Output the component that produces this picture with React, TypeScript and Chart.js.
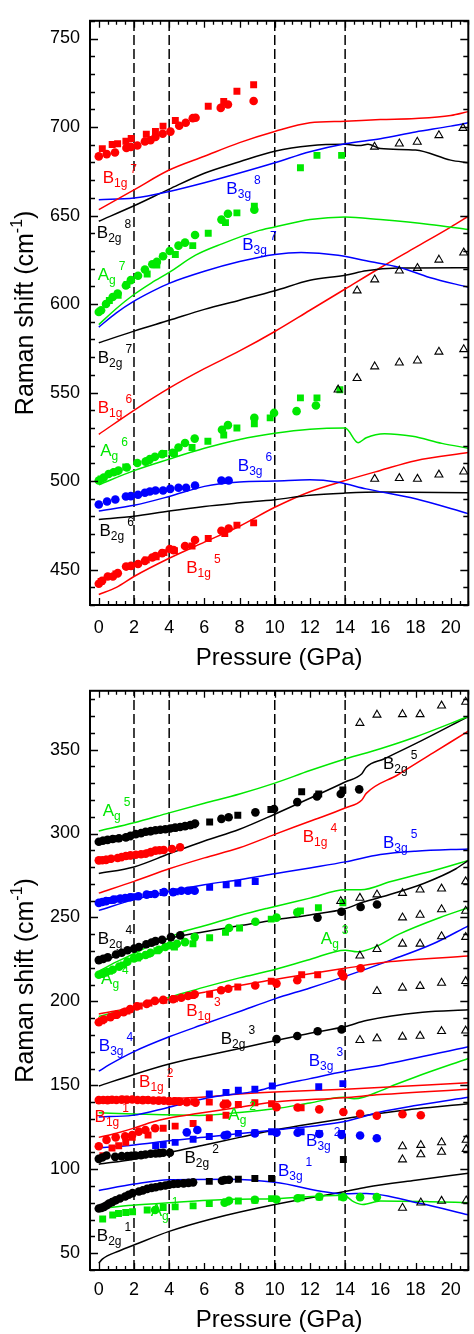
import { useEffect, useRef } from 'react';
import { Chart, registerables } from 'chart.js';
Chart.register(...registerables);

type Pt = [number, number];
type Lbl = { x: number; y: number; main: string; sub: string; sup: string; color: string };

const RED = '#ff0000';
const GREEN = '#00e800';
const BLUE = '#0000ff';
const BLACK = '#000000';
const FONT = '"Liberation Sans", Arial, Helvetica, sans-serif';

// ---------- axes ----------
const xTicks = [0, 2, 4, 6, 8, 10, 12, 14, 16, 18, 20];
const topYTicks = [450, 500, 550, 600, 650, 700, 750];
const botYTicks = [50, 100, 150, 200, 250, 300, 350];
const pressureMarks = [2, 4, 10, 14];
const xTitle = 'Pressure (GPa)';

// ---------- TOP PANEL : calculated curves ----------
const thB1g7: Pt[] = [[0,653.3],[2,664.5],[4,675.7],[6,683.5],[8,691.2],[10,697.5],[12,702.4],[14,703.3],[16,704.2],[18,704.8],[20,706.5],[21,708.7]];
const thB3g8: Pt[] = [[0,658.9],[2,659.9],[4,663.6],[6,668.5],[8,674],[10,679.8],[12,686],[14,690.6],[16,693.4],[18,697.2],[20,700.5],[21,702.4]];
const thB2g8: Pt[] = [[0,646.8],[2,655.5],[4,664.9],[6,673.9],[8,680.4],[10,686.3],[12,689.4],[14,690.2],[14.8,689.5],[15.3,690.3],[16,687.8],[18,687],[20,681.3],[21,679.8]];
const thAg7: Pt[] = [[0,588.4],[1,597.5],[2,605.4],[3,612],[4,617.9],[5.5,627.6],[7,634],[9,641.2],[10,643.5],[12,647.7],[14,649.2],[16,647.7],[18.8,645],[21,642.1]];
const thB3g7: Pt[] = [[0,587],[1,595],[2,601.6],[3,607],[4,611.7],[6,618.5],[8,624],[10,628],[11.5,629.1],[13.6,627.6],[15.2,624.4],[17.1,620.7],[18.8,615],[21,609.5]];
const thB2g7: Pt[] = [[0,578.1],[2,584.7],[4,590.8],[6,597],[8,602.2],[10,607.5],[12,613.5],[14,616.3],[15.2,618.8],[17,620.3],[21,620.5]];
const thB1g6: Pt[] = [[0,526.4],[2,540],[4,552.5],[6,563.5],[8,573.5],[10,584.5],[12,596.5],[14,608.5],[16,620.5],[18,632],[20,643.5],[21,649.6]];
const thAg6: Pt[] = [[0,497.9],[2,505.9],[4,512.4],[6,518.5],[8,523.5],[10,527],[12,529.3],[14,530],[14.74,521.7],[15.2,524.5],[16.24,526.8],[17.83,525.3],[19.5,521.3],[21,518.6]];
const thB3g6: Pt[] = [[0,483.1],[2,486.3],[4,491.3],[6,497],[8,499.5],[10,500],[12,500.7],[13.6,499.3],[15.2,495.6],[18,490],[21,481.6]];
const thB2g6: Pt[] = [[0,478.3],[2,480.1],[4,483.1],[6,485.7],[8,487.7],[10,489.5],[12,492],[14,493.2],[16,493.8],[21,493.4]];
const thB1g5: Pt[] = [[0,435.9],[1,440],[2,446.1],[4,456.4],[6,465.5],[8,474.5],[10,485.2],[12,494],[14,500.3],[16,506],[18,511.5],[21,516.1]];

// ---------- TOP PANEL : measured ----------
const expB1g7Circ: Pt[] = [[0,683.4],[0.45,684.7],[0.92,685.6],[1.57,688.2],[1.82,688.8],[2.19,689.6],[2.62,691.8],[2.94,692.5],[3.22,694.4],[3.63,696.2],[4.07,697.4],[4.57,700.7],[4.94,702.4],[5.34,705],[5.5,705.2],[6.93,710.8],[7.34,712.7],[8.8,714.7]];
const expB1g7Sq: Pt[] = [[0.2,687.8],[0.76,690.1],[1.07,690.5],[1.54,692],[1.84,693.5],[2.7,695.9],[3.22,697.5],[3.65,700.5],[4.35,703.7],[6.22,711.7],[7.1,714.4],[7.85,720.2],[8.8,723.9]];
const expAg7Circ: Pt[] = [[0,595.5],[0.13,596.5],[0.41,600],[0.79,604],[1.07,606],[1.54,610.5],[1.82,613.5],[2.23,616],[2.62,619.5],[3.04,622.5],[3.3,623.8],[3.65,627],[4.03,630],[4.53,633],[4.9,634.7],[5.47,639],[6.97,647.7],[7.34,651],[8.84,653.3]];
const expAg7Sq: Pt[] = [[0.6,602],[1.1,605],[1.6,611],[2.75,617],[3.3,622],[4.35,628],[5.34,633],[6.22,640],[7.2,646],[7.85,651.5],[8.84,655.2],[11.46,677],[12.4,684],[13.8,684]];
const expAg6Circ: Pt[] = [[0,500.3],[0.28,502],[0.56,504],[0.84,505],[1.12,506],[1.59,507.7],[2.19,510.2],[2.66,511],[2.9,512.4],[3.19,513.7],[3.6,515.2],[4.2,516],[4.53,519],[4.9,521.5],[5.45,524],[7.0,529],[7.34,531.6],[8.84,535.7],[9.96,538.5],[11.24,539.5],[12.34,542.7]];
const expAg6Sq: Pt[] = [[0.13,501.2],[0.97,505.3],[1.53,508],[2.8,511.5],[3.7,515.6],[4.3,515.6],[5.3,519],[6.2,522.5],[7.1,526],[7.85,530],[8.84,532.4],[9.74,535.7],[11.46,547],[12.4,547],[13.7,551.6]];
const expB3g6Circ: Pt[] = [[0,486.8],[0.47,488.5],[0.94,489.6],[1.54,491.3],[1.82,491.5],[2.23,492.3],[2.62,493.4],[2.9,494.1],[3.22,494.7],[3.65,494.7],[4.06,495.6],[4.53,496.2],[4.96,496.2],[5.47,497.5],[6.97,500.3],[7.38,500.3]];
const expB1g5Circ: Pt[] = [[0,442],[0.19,443.7],[0.51,446.1],[0.8,446.1],[1.08,448],[1.55,451.7],[1.83,452.1],[2.23,453.2],[2.62,454.9],[3.04,456.8],[3.22,457.7],[3.6,459.3],[4.03,461.6],[4.25,461],[4.9,463.3],[5.47,466.7],[6.97,471.9],[7.38,473.2]];
const expB1g5Sq: Pt[] = [[0.13,443.3],[0.97,447.5],[1.72,451.7],[2.7,455.5],[3.26,457.2],[3.7,459.6],[4.3,460.7],[5.3,463.3],[6.22,467.6],[7.16,470.4],[7.85,475.1],[8.8,476.4]];
const triTop: Pt[] = [
  [15.67,688.8],[17.08,690.6],[18.1,691.6],[19.33,695.3],[20.7,699.4],
  [14.68,607.6],[15.68,613.8],[17.08,618.8],[18.11,620.3],[19.33,625],[20.74,629],
  [13.6,551.6],[14.68,558.1],[15.68,564.7],[17.08,566.9],[18.11,568],[19.33,573],[20.74,574.4],
  [15.68,501.2],[17.08,501.6],[18.11,501.2],[19.33,503.6],[20.74,505.3],
];
const topLabels: Lbl[] = [
  { x: 0.22, y: 671.9, main: 'B', sub: '1g', sup: '7', color: RED },
  { x: 7.25, y: 665.5, main: 'B', sub: '3g', sup: '8', color: BLUE },
  { x: -0.11, y: 640.8, main: 'B', sub: '2g', sup: '8', color: BLACK },
  { x: -0.06, y: 616.9, main: 'A', sub: 'g', sup: '7', color: GREEN },
  { x: 8.15, y: 633.9, main: 'B', sub: '3g', sup: '7', color: BLUE },
  { x: -0.06, y: 569.9, main: 'B', sub: '2g', sup: '7', color: BLACK },
  { x: -0.06, y: 542.1, main: 'B', sub: '1g', sup: '6', color: RED },
  { x: 0.08, y: 517.6, main: 'A', sub: 'g', sup: '6', color: GREEN },
  { x: 7.9, y: 509.1, main: 'B', sub: '3g', sup: '6', color: BLUE },
  { x: 0.04, y: 472.1, main: 'B', sub: '2g', sup: '6', color: BLACK },
  { x: 4.97, y: 451.7, main: 'B', sub: '1g', sup: '5', color: RED },
];

// ---------- BOTTOM PANEL : calculated curves ----------
const thAg5: Pt[] = [[0,301.5],[2,306.4],[4,312.3],[6,318],[8,323.5],[10,330],[12,337.5],[14,344.4],[16,350.5],[18,357.5],[21,369.7]];
const thB2g5: Pt[] = [[0,276.2],[2,280.1],[4,287.9],[6,295.5],[8,302.5],[10,311.5],[12,321],[14,330.7],[14.95,335.6],[15.2,339.5],[16.2,344.4],[18,353.5],[21,369.7]];
const thB1g4: Pt[] = [[0,264.5],[2,271.5],[4,279],[6,285.5],[8,291.5],[10,299.5],[12,307.3],[14,315.2],[14.95,320],[15.2,323.9],[17,335],[19,348],[21,361]];
const thB3g5: Pt[] = [[0,254.2],[2,260.6],[4,265.5],[6,269.5],[8,272.5],[10,276],[12,279.5],[14,283.1],[16,287.5],[18,289.5],[21,290.8]];
const thB2g4: Pt[] = [[0,223.5],[2,230.5],[4,237.5],[6,241.5],[8,245],[10,248.5],[12,251.5],[14,255.2],[15,259],[16.5,263.5],[18.5,270.4],[20.3,279],[21,284]];
const thAg4: Pt[] = [[0,218],[1,223.5],[2,228.5],[3,233.5],[4,238],[4.7,241.2],[6,245],[8,251.2],[9.6,255.5],[12,261.5],[14,266.5],[14.9,266.5],[16.6,271.4],[19.4,279],[21,284]];
const thAg3: Pt[] = [[0,191],[2,196.5],[4,202.4],[6,208.5],[8,214],[10,219],[12,225],[14,230.5],[14.7,229.5],[15.7,232.4],[17.1,240.2],[19.4,250],[21,255.8]];
const thB1g3: Pt[] = [[0,192.5],[2,196.4],[4,201.3],[6,205.5],[8,209.5],[10,213],[12,216.5],[14,219.7],[16.6,223.7],[21,227]];
const thB3g4: Pt[] = [[0,158.4],[0.6,162.3],[2,170.1],[4,178.9],[6,186.5],[8,194],[10,201.5],[12,208],[14,214.9],[16.6,224.6],[19,234.3],[21,245]];
const thB2g3: Pt[] = [[0,149.6],[2,156.5],[4,162.7],[6,167.5],[8,172],[10,176.5],[12,181],[14,185],[15.2,188.6],[18.4,193.5],[21,195]];
const thB3g3: Pt[] = [[0,131.2],[1.9,132.1],[4,137],[6.4,142.9],[9,146.7],[10,149.5],[12,154],[14,158.4],[16.2,162.3],[21,173]];
const thB1g2: Pt[] = [[0,141],[4,142],[6,143],[8,144.8],[10,146],[14,147.7],[21,151.6]];
const thB1g1: Pt[] = [[0,119],[1,121.5],[2,124.5],[3,128],[4,130.5],[5.7,133.3],[8,137],[10,140.1],[13.9,142.6],[16,144.5],[21,147.7]];
const thAg2: Pt[] = [[0,133.6],[2,132.9],[5.7,132.1],[8,133.8],[10,136],[12,139.5],[13.9,142.9],[14.5,142],[15.05,142.9],[16,146.7],[16.9,150.6],[18,155],[21,166]];
const thB3g2: Pt[] = [[0,112.7],[2,114.5],[4,117],[6.4,119.5],[10,123.4],[13.9,128.3],[16,134.1],[18,138],[21,142.9]];
const thB2g2: Pt[] = [[0,103],[2,106],[4,110],[6,114.5],[8,119],[10,123.4],[12,127],[14,130.2],[17,134.7],[21,139]];
const thB3g1: Pt[] = [[0,87.4],[2,91.2],[4,93.8],[7.5,94.1],[10,92.2],[14,85.4],[15.2,85.6],[18.3,79.6],[21,72.9]];
const thAg1: Pt[] = [[0,76.6],[1.9,78.6],[4,80.1],[7.5,82.1],[10,82.5],[13.9,84.5],[14.5,80.6],[15,79],[16,81.1],[18.8,80.7],[21,80.1]];
const thB2g1: Pt[] = [[0,44],[0.2,46.5],[1.15,51.3],[2.1,55.3],[4,63],[6.4,70.4],[10,79],[14,86.8],[15.2,89.3],[18,93.5],[21,97.6]];

// ---------- BOTTOM PANEL : measured ----------
const expB2g5Circ: Pt[] = [[0,295.1],[0.23,295.7],[0.5,296.2],[0.79,296.7],[1.15,297.2],[1.54,297.7],[1.8,298.6],[2.1,299.6],[2.4,300.2],[2.66,301],[2.95,301.4],[3.22,301.9],[3.5,302.2],[3.78,302.5],[4.06,303],[4.34,303.5],[4.62,303.9],[4.9,304.4],[5.2,305],[5.47,306],[6.97,308.7],[7.38,309.7],[8.9,312.6],[9.96,314.6],[11.28,318.7],[12.4,322],[13.75,323.5],[14.8,326.3]];
const expB2g5Sq: Pt[] = [[0.35,296],[0.95,296.9],[1.7,298],[2.8,301],[3.65,302.3],[4.3,303.3],[5.35,305.2],[6.3,306.8],[7.9,310.9],[9.78,314.3],[11.53,324.9],[12.5,323.5],[13.87,325.9]];
const expB1g4Circ: Pt[] = [[0,284],[0.2,284.1],[0.41,284.3],[0.7,285],[1.07,285.4],[1.3,286],[1.54,286.6],[1.8,287],[2.1,287.3],[2.4,287.6],[2.66,287.9],[2.95,288.9],[3.22,289.8],[3.45,290],[3.69,290.2],[4.16,290.8],[4.62,291.8]];
const expB1g4Sq: Pt[] = [[0.55,284.7],[1.2,285.6],[1.73,286.6],[2.85,288.5],[3.35,289.9]];
const expB3g5Circ: Pt[] = [[0,258.7],[0.2,259.2],[0.41,259.7],[0.84,260.6],[1.22,261.2],[1.5,261.6],[1.78,262],[2.25,262.6],[2.72,263.6],[3.19,264],[3.71,265.1],[4.22,265.1],[4.69,265.9],[5.07,265.9],[5.45,265.9]];
const expB3g5Sq: Pt[] = [[0.6,260.1],[1.1,261],[2.0,262.3],[2.85,263.7],[3.65,264.9],[4.35,265.3],[5.35,266.3],[6.3,267.9],[7.24,269.4],[7.9,270.4],[8.89,271.4]];
const expB2g4Circ: Pt[] = [[0,224.6],[0.25,225.3],[0.51,226.2],[0.98,227.9],[1.3,229],[1.63,230.5],[2,231.4],[2.28,232.4],[2.7,234],[3.0,235],[3.22,235.9],[3.6,236.7],[4.1,238.3],[4.63,239.3],[12.43,249.9],[13.79,253.4],[14.88,256.2],[15.81,257.7]];
const expAg4Circ: Pt[] = [[0,215.9],[0.2,216.5],[0.41,217.2],[0.79,218.8],[1.16,220.7],[1.63,223.7],[2,225.6],[2.3,226.6],[2.66,227.6],[2.94,228.9],[3.41,230.8],[3.78,232.4],[4.06,233.4],[4.44,234.3],[4.9,235.3],[5.45,238.3],[7.4,243.7],[8.9,247.4],[10.1,249.9],[11.28,253]];
const expAg4Sq: Pt[] = [[0.13,216],[0.6,218],[1.4,221.7],[2.2,225.8],[2.75,228],[3.3,230.2],[4.3,232.4],[5.35,234.3],[6.3,237.9],[7.2,241.2],[8.0,243.7],[9.8,249],[11.46,253.9],[12.48,255.8],[13.87,258.7]];
const expB1g3Circ: Pt[] = [[0,187.6],[0.28,189.2],[0.66,190.6],[1.03,192.1],[1.41,193.5],[1.78,195.4],[2.16,197],[2.72,198.4],[3.19,200.3],[3.66,200.9],[4.22,201.3],[4.69,202.2],[5.07,203.2],[5.45,204.2],[6.95,206.6],[7.36,207.5],[8.89,209.5],[10.1,210.6],[11.28,212.6],[13.8,216.8],[13.9,214.9],[14.88,219.7]];
const expB1g3Sq: Pt[] = [[0.15,188.5],[0.9,191.5],[1.6,194.3],[2.3,197.2],[2.85,199],[3.7,200.6],[4.3,201.6],[5.3,203.5],[6.3,204.2],[7.9,208.6],[9.8,212],[11.53,215.9],[12.44,215.9]];
const expB2g3Circ: Pt[] = [[10.1,177.5],[11.28,179.4],[12.44,182.2],[13.8,183.3]];
const expB3g3Sq: Pt[] = [[6.28,144.8],[7.23,145.8],[7.93,147.1],[8.87,147.7],[9.86,149.6],[12.5,149.1],[13.87,151]];
const expB1g2Circ: Pt[] = [[0,141.2],[0.25,141.3],[0.5,141.2],[0.75,141.4],[1.0,141.3],[1.3,141.5],[1.6,141.4],[1.9,141.6],[2.2,141.3],[2.5,141.2],[2.8,141.3],[3.1,141],[3.4,140.9],[3.7,140.8],[4.0,140.6],[4.3,140.5],[4.6,140.3],[5.0,140],[5.5,139.7],[7.1,138.4],[7.3,138.9],[10.1,137],[11.3,136.8],[12.53,135.7],[13.9,134.1],[14.85,133.1],[15.8,131.9],[17.26,132.8],[18.3,132.2]];
const expB1g2Sq: Pt[] = [[0.6,141.6],[1.5,141.7],[2.7,141.5],[3.6,141.1],[4.4,140.8],[5.4,140.2],[6.28,140],[7.2,139.5],[7.93,138.6],[8.87,139.6],[9.82,139],[11.5,136.6]];
const expB1g1Circ: Pt[] = [[0,113.7],[0.44,117.5],[0.96,119],[1.5,119.6],[1.9,120.4],[2.27,122.4],[2.65,123.4],[3.2,124.4]];
const expB1g1Sq: Pt[] = [[0.23,108],[0.75,112.7],[1.13,114],[1.53,116],[1.9,119],[2.8,120.4],[3.66,124.4],[4.34,125.7],[5.36,127.3],[6.28,130.6],[7.23,132.2]];
const expB3g2Circ: Pt[] = [[5.0,122],[5.6,123.4],[7.15,120.1],[7.3,120.6],[8.87,121.4],[10.1,121.8],[11.3,121.8],[12.53,121],[13.8,120.4],[14.85,120.1],[15.8,118.5]];
const expB3g2Sq: Pt[] = [[3.23,114],[3.66,114.6],[4.34,116],[5.36,117.9],[6.28,119.5],[7.23,120.4],[7.93,121.4],[8.87,121.8],[9.82,122.4],[11.5,122.4],[12.53,121.4],[13.8,121.4]];
const expB2g2Circ: Pt[] = [[0,106.2],[0.2,107],[0.44,108.2],[0.93,107.4],[1.3,107.8],[1.62,107.8],[1.85,108],[2.09,108.2],[2.4,108.4],[2.65,108.8],[2.95,109.2],[3.23,109.4],[3.45,109.6],[3.66,109.8],[4.04,109.8]];
const expB2g2Sq: Pt[] = [[13.9,105.8]];
const expB2g1Circ: Pt[] = [[0,76.6],[0.15,77],[0.3,77.6],[0.45,78.6],[0.58,79.6],[0.75,80.4],[0.96,81.5],[1.2,82.6],[1.5,83.8],[1.7,84.8],[1.92,85.8],[2.28,86.8],[2.5,87.4],[2.75,88.3],[3.0,88.9],[3.23,89.3],[3.5,89.9],[3.78,90.3],[4.0,90.8],[4.25,91.2],[4.5,91.4],[4.82,91.6],[5.1,91.9],[5.36,92.2],[7.0,93.2],[7.15,93.6],[7.4,93.8]];
const expB2g1Sq: Pt[] = [[6.28,92.8],[7.3,93.6],[7.93,94.1],[8.87,94.5],[9.82,94.5]];
const expAg1Circ: Pt[] = [[3.2,75.7],[7.15,80.1],[7.4,81.2],[8.87,81.8],[10.1,82],[11.3,82.7],[12.53,83.6],[13.9,83.4],[14.85,83.4],[15.8,83.4]];
const expAg1Sq: Pt[] = [[0.22,70.4],[0.79,72.8],[1.12,73.7],[1.53,74.3],[1.92,74.7],[2.75,75.7],[3.66,77.2],[4.34,77.6],[5.36,78.2],[6.28,79.6],[7.23,80.5],[7.93,81.1],[8.87,81.5],[9.82,82.5],[11.5,83],[12.53,83.4],[13.8,83.4]];
const triBottom: Pt[] = [
  [14.84,365.8],[15.81,370.7],[17.26,371],[18.26,371],[19.48,376.1],[20.85,378.4],
  [13.75,259.7],[14.84,261.6],[15.81,263.6],[17.26,264.5],[18.26,266.5],[19.48,267.1],[20.85,271.4],
  [17.26,249.9],[18.26,251.5],[19.48,254.8],[20.85,253.9],
  [14.84,227.2],[15.81,231.1],[17.26,234.3],[18.26,234.3],[19.48,238.7],[20.85,238.3],
  [15.81,206.1],[17.26,208.1],[18.26,209.1],[19.48,211],[20.85,212],
  [14.84,176.9],[15.81,177.9],[17.26,178.9],[18.26,179.4],[19.48,182.2],[20.85,182.5],
  [17.26,113.6],[18.3,114.4],[19.48,116],[20.88,117.5],
  [17.26,105.8],[18.3,108.8],[19.48,110.3],[20.88,112],
  [17.26,77],[18.3,80.1],[19.48,81.1],[20.88,81.3],
];
const bottomLabels: Lbl[] = [
  { x: 0.22, y: 313.8, main: 'A', sub: 'g', sup: '5', color: GREEN },
  { x: 16.15, y: 342.2, main: 'B', sub: '2g', sup: '5', color: BLACK },
  { x: 11.59, y: 298.4, main: 'B', sub: '1g', sup: '4', color: RED },
  { x: 16.15, y: 294.7, main: 'B', sub: '3g', sup: '5', color: BLUE },
  { x: -0.06, y: 237.9, main: 'B', sub: '2g', sup: '4', color: BLACK },
  { x: 0.13, y: 213.9, main: 'A', sub: 'g', sup: '4', color: GREEN },
  { x: 12.62, y: 237.9, main: 'A', sub: 'g', sup: '3', color: GREEN },
  { x: 4.97, y: 195, main: 'B', sub: '1g', sup: '3', color: RED },
  { x: 0, y: 174, main: 'B', sub: '3g', sup: '4', color: BLUE },
  { x: 6.93, y: 178.3, main: 'B', sub: '2g', sup: '3', color: BLACK },
  { x: 11.93, y: 165.1, main: 'B', sub: '3g', sup: '3', color: BLUE },
  { x: 2.29, y: 152.4, main: 'B', sub: '1g', sup: '2', color: RED },
  { x: -0.24, y: 131.8, main: 'B', sub: '1g', sup: '1', color: RED },
  { x: 7.36, y: 132.7, main: 'A', sub: 'g', sup: '2', color: GREEN },
  { x: 11.78, y: 117.2, main: 'B', sub: '3g', sup: '2', color: BLUE },
  { x: 4.87, y: 107.4, main: 'B', sub: '2g', sup: '2', color: BLACK },
  { x: 10.18, y: 99.6, main: 'B', sub: '3g', sup: '1', color: BLUE },
  { x: 2.95, y: 75.9, main: 'A', sub: 'g', sup: '1', color: GREEN },
  { x: -0.11, y: 60.7, main: 'B', sub: '2g', sup: '1', color: BLACK },
];

type Series = [Pt[], string];
interface PanelSpec {
  height: number;
  padTop: number;
  xAxisH: number;
  yMin: number;
  yMax: number;
  yTicks: number[];
  xLabelPad: number;
  titleY: number;
  lines: Series[];
  circles: Series[];
  squares: Series[];
  triangles: Pt[];
  labels: Lbl[];
}

const topSpec: PanelSpec = {
  height: 670, padTop: 15, xAxisH: 65, yMin: 430, yMax: 760, yTicks: topYTicks, xLabelPad: 12, titleY: 53,
  lines: [[thB1g7, RED], [thB3g8, BLUE], [thB2g8, BLACK], [thAg7, GREEN], [thB3g7, BLUE], [thB2g7, BLACK], [thB1g6, RED], [thAg6, GREEN], [thB3g6, BLUE], [thB2g6, BLACK], [thB1g5, RED]],
  circles: [[expB1g7Circ, RED], [expAg7Circ, GREEN], [expAg6Circ, GREEN], [expB3g6Circ, BLUE], [expB1g5Circ, RED]],
  squares: [[expB1g7Sq, RED], [expAg7Sq, GREEN], [expAg6Sq, GREEN], [expB1g5Sq, RED]],
  triangles: triTop,
  labels: topLabels,
};

const bottomSpec: PanelSpec = {
  height: 664, padTop: 9, xAxisH: 64, yMin: 40, yMax: 385, yTicks: botYTicks, xLabelPad: 9, titleY: 50,
  lines: [[thAg5, GREEN], [thB2g5, BLACK], [thB1g4, RED], [thB3g5, BLUE], [thB2g4, BLACK], [thAg4, GREEN], [thAg3, GREEN], [thB1g3, RED], [thB3g4, BLUE], [thB2g3, BLACK], [thB3g3, BLUE], [thB1g2, RED], [thB1g1, RED], [thAg2, GREEN], [thB3g2, BLUE], [thB2g2, BLACK], [thB3g1, BLUE], [thAg1, GREEN], [thB2g1, BLACK]],
  circles: [[expB2g5Circ, BLACK], [expB1g4Circ, RED], [expB3g5Circ, BLUE], [expB2g4Circ, BLACK], [expAg4Circ, GREEN], [expB1g3Circ, RED], [expB2g3Circ, BLACK], [expB1g2Circ, RED], [expB1g1Circ, RED], [expB3g2Circ, BLUE], [expB2g2Circ, BLACK], [expB2g1Circ, BLACK], [expAg1Circ, GREEN]],
  squares: [[expB2g5Sq, BLACK], [expB1g4Sq, RED], [expB3g5Sq, BLUE], [expAg4Sq, GREEN], [expB1g3Sq, RED], [expB3g3Sq, BLUE], [expB1g2Sq, RED], [expB1g1Sq, RED], [expB3g2Sq, BLUE], [expB2g2Sq, BLACK], [expB2g1Sq, BLACK], [expAg1Sq, GREEN]],
  triangles: triBottom,
  labels: bottomLabels,
};

const toXY = (d: Pt[]) => d.map(([x, y]) => ({ x, y }));

function buildDatasets(s: PanelSpec): any[] {
  const ds: any[] = [];
  ds.push({ data: toXY(s.triangles), pointStyle: 'triangle', pointRadius: 4.6, borderWidth: 1.1, borderColor: BLACK, backgroundColor: 'rgba(255,255,255,0)', showLine: false });
  s.circles.forEach(([d, c]) => ds.push({ data: toXY(d), pointStyle: 'circle', pointRadius: 4.3, borderWidth: 0, backgroundColor: c, borderColor: c, showLine: false }));
  s.squares.forEach(([d, c]) => ds.push({ data: toXY(d), pointStyle: 'rect', pointRadius: 4.9, borderWidth: 0, backgroundColor: c, borderColor: c, showLine: false }));
  s.lines.forEach(([d, c]) => ds.push({ data: toXY(d), showLine: true, pointRadius: 0, borderColor: c, borderWidth: 1.5, cubicInterpolationMode: 'monotone', fill: false }));
  pressureMarks.forEach((v) => ds.push({ data: [{ x: v, y: s.yMin }, { x: v, y: s.yMax }], showLine: true, pointRadius: 0, borderColor: BLACK, borderWidth: 1.5, borderDash: [10, 4] }));
  return ds;
}

function decoPlugin(s: PanelSpec) {
  return {
    id: 'deco',
    afterDraw(chart: any) {
      const { ctx, chartArea: ca } = chart;
      const xs = chart.scales.x;
      const ys = chart.scales.y;
      ctx.save();
      // mode labels
      s.labels.forEach((L) => {
        const px = xs.getPixelForValue(L.x);
        const base = ys.getPixelForValue(L.y) + 6;
        ctx.fillStyle = L.color;
        ctx.textAlign = 'left';
        ctx.textBaseline = 'alphabetic';
        ctx.font = `17px ${FONT}`;
        ctx.fillText(L.main, px, base);
        const w = ctx.measureText(L.main).width;
        ctx.font = `12px ${FONT}`;
        ctx.fillText(L.sub, px + w, base + 4);
        const ws = ctx.measureText(L.sub).width;
        ctx.fillText(L.sup, px + w + ws + 3, base - 10);
      });
      // inward ticks
      ctx.strokeStyle = BLACK;
      ctx.lineWidth = 1.3;
      ctx.beginPath();
      for (let v = 0; v <= 21.0001; v += 0.5) {
        const px = Math.round(xs.getPixelForValue(v)) + 0.5;
        const len = Math.abs(v % 2) < 1e-6 ? 7 : 4;
        ctx.moveTo(px, ca.bottom);
        ctx.lineTo(px, ca.bottom - len);
        ctx.moveTo(px, ca.top);
        ctx.lineTo(px, ca.top + len);
      }
      for (let v = Math.ceil(s.yMin / 10) * 10; v <= s.yMax; v += 10) {
        const py = Math.round(ys.getPixelForValue(v)) + 0.5;
        const len = v % 50 === 0 ? 8 : 5;
        ctx.moveTo(ca.left, py);
        ctx.lineTo(ca.left + len, py);
        ctx.moveTo(ca.right, py);
        ctx.lineTo(ca.right - len, py);
      }
      ctx.stroke();
      // frame
      ctx.lineWidth = 2;
      ctx.strokeRect(ca.left, ca.top, ca.right - ca.left, ca.bottom - ca.top);
      // x title
      ctx.fillStyle = BLACK;
      ctx.font = `24px ${FONT}`;
      ctx.textAlign = 'center';
      ctx.textBaseline = 'middle';
      ctx.fillText(xTitle, (ca.left + ca.right) / 2, ca.bottom + s.titleY);
      // y title (rotated, with superscript)
      ctx.translate(26, (ca.top + ca.bottom) / 2);
      ctx.rotate(-Math.PI / 2);
      ctx.textAlign = 'left';
      const p1 = 'Raman shift (cm';
      const p2 = '-1';
      const p3 = ')';
      ctx.font = `25px ${FONT}`;
      const w1 = ctx.measureText(p1).width;
      const w3 = ctx.measureText(p3).width;
      ctx.font = `16px ${FONT}`;
      const w2 = ctx.measureText(p2).width;
      let x0 = -(w1 + w2 + w3) / 2;
      ctx.font = `25px ${FONT}`;
      ctx.fillText(p1, x0, 0);
      x0 += w1;
      ctx.font = `16px ${FONT}`;
      ctx.fillText(p2, x0, -8);
      x0 += w2;
      ctx.font = `25px ${FONT}`;
      ctx.fillText(p3, x0, 0);
      ctx.restore();
    },
  };
}

function Panel({ spec, top }: { spec: PanelSpec; top: number }) {
  const ref = useRef<HTMLCanvasElement | null>(null);
  useEffect(() => {
    if (!ref.current) return;
    const chart = new Chart(ref.current, {
      type: 'scatter',
      data: { datasets: buildDatasets(spec) },
      options: {
        animation: false,
        responsive: false,
        maintainAspectRatio: false,
        devicePixelRatio: 1,
        layout: { padding: { left: 0, top: spec.padTop, right: 1, bottom: 0 } },
        plugins: { legend: { display: false }, tooltip: { enabled: false } },
        events: [],
        scales: {
          x: {
            type: 'linear',
            min: -0.5,
            max: 21,
            afterBuildTicks: (sc: any) => { sc.ticks = xTicks.map((v) => ({ value: v })); },
            afterFit: (sc: any) => { sc.height = spec.xAxisH; },
            grid: { display: false, drawTicks: false },
            border: { display: false },
            ticks: { padding: spec.xLabelPad, color: BLACK, font: { family: FONT, size: 18 }, maxRotation: 0, autoSkip: false },
          },
          y: {
            type: 'linear',
            min: spec.yMin,
            max: spec.yMax,
            afterBuildTicks: (sc: any) => { sc.ticks = spec.yTicks.map((v) => ({ value: v })); },
            afterFit: (sc: any) => { sc.width = 90; },
            grid: { display: false, drawTicks: false },
            border: { display: false },
            ticks: { padding: 10, color: BLACK, font: { family: FONT, size: 18 }, autoSkip: false },
          },
        },
      } as any,
      plugins: [decoPlugin(spec)],
    });
    return () => chart.destroy();
  }, [spec]);
  return (
    <canvas
      ref={ref}
      width={474}
      height={spec.height}
      style={{ position: 'absolute', left: 0, top, width: 474, height: spec.height, display: 'block' }}
    />
  );
}

export default function App() {
  return (
    <div style={{ position: 'absolute', left: 0, top: 0, width: 474, height: 1334, background: '#ffffff' }}>
      <Panel spec={topSpec} top={0} />
      <Panel spec={bottomSpec} top={670} />
    </div>
  );
}
